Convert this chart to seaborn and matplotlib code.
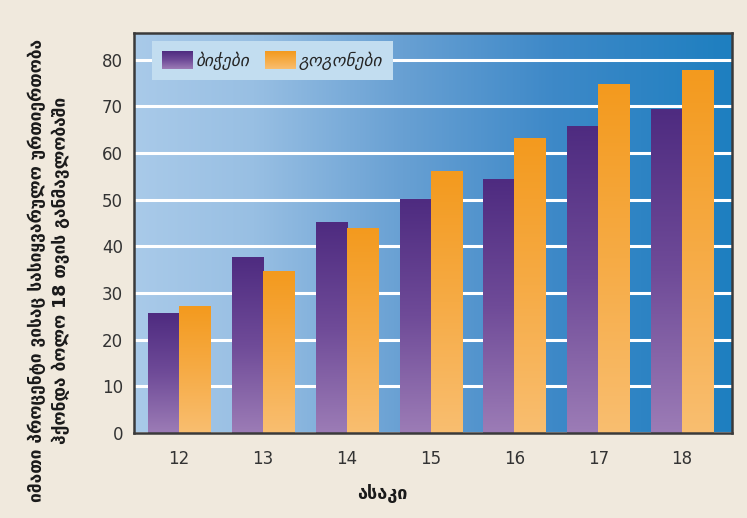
import numpy as np
import pandas as pd
import matplotlib
matplotlib.use("Agg")
import matplotlib.pyplot as plt
import seaborn as sns
from matplotlib.colors import LinearSegmentedColormap
from matplotlib.legend_handler import HandlerBase
from matplotlib.image import BboxImage
from matplotlib.transforms import Bbox, TransformedBbox
from matplotlib.patches import Patch

# ---- data ----
ages = ["12", "13", "14", "15", "16", "17", "18"]
boys = [25.7, 37.7, 45.2, 50.0, 54.4, 65.7, 69.4]
girls = [27.2, 34.6, 43.9, 56.0, 63.2, 74.7, 77.7]
series_names = ["ბიჭები", "გოგონები"]
y_ticks = [0, 10, 20, 30, 40, 50, 60, 70, 80]
y_label = "იმათი პროცენტი ვისაც სასიყვარულო ურთიერთობა\nჰქონდა ბოლო 18 თვის განმავლობაში"
x_label = "ასაკი"

df = pd.DataFrame({
    "age": ages * 2,
    "group": [series_names[0]] * len(ages) + [series_names[1]] * len(ages),
    "value": boys + girls,
})

sns.set_theme(style="white")
plt.rcParams["font.family"] = ["DejaVu Sans"]

BG = "#f0e9dd"
purple_cmap = LinearSegmentedColormap.from_list("purple", ["#9c7cb6", "#6f4b98", "#4e2b80"])
orange_cmap = LinearSegmentedColormap.from_list("orange", ["#f9be70", "#f6ab45", "#f39a1e"])
panel_cmap = LinearSegmentedColormap.from_list(
    "panel", [(0.0, "#a9cae9"), (0.2, "#98bfe3"), (0.45, "#68a0d3"),
              (0.7, "#3e89c8"), (1.0, "#1e7fc0")])

fig = plt.figure(figsize=(7.47, 5.18), dpi=100, facecolor=BG)
ax = fig.add_axes([134 / 747, 1 - 433 / 518, 598 / 747, 400.3 / 518])

sns.barplot(data=df, x="age", y="value", hue="group",
            palette=["#4e2b80", "#f39a1e"], width=0.74, ax=ax,
            legend=False, saturation=1, linewidth=0)

# panel background: horizontal blue gradient
ax.imshow(np.linspace(0, 1, 256).reshape(1, -1), cmap=panel_cmap,
          extent=[0, 1, 0, 1], transform=ax.transAxes, aspect="auto",
          zorder=0.1, interpolation="bilinear")

# vertical gradient fill for each bar
vgrad = np.linspace(0, 1, 256).reshape(-1, 1)
n = len(ages)
for i, bar in enumerate(ax.patches[: 2 * n]):
    x0, w, h = bar.get_x(), bar.get_width(), bar.get_height()
    cmap = purple_cmap if i < n else orange_cmap
    ax.imshow(vgrad, cmap=cmap, extent=[x0, x0 + w, 0, h], origin="lower",
              aspect="auto", zorder=2, interpolation="bilinear")
    bar.set_facecolor("none")

ax.set_xlim(-0.537, 6.596)
ax.set_ylim(0, 85.8)
ax.set_yticks(y_ticks)
ax.set_axisbelow(True)
ax.yaxis.grid(True, color="white", linewidth=2.2)
ax.xaxis.grid(False)
ax.tick_params(axis="both", length=0, labelsize=12, labelcolor="#333333")
ax.tick_params(axis="x", pad=12)
ax.tick_params(axis="y", pad=8)
ax.set_xlabel("")
ax.set_ylabel("")
for s in ax.spines.values():
    s.set_visible(True)
    s.set_color("#3a3a3a")
    s.set_linewidth(1.8)


class GradientHandler(HandlerBase):
    def __init__(self, cmap):
        super().__init__()
        self.cmap = cmap

    def create_artists(self, legend, orig_handle, xdescent, ydescent,
                       width, height, fontsize, trans):
        bb = TransformedBbox(Bbox.from_bounds(-xdescent, -ydescent, width, height), trans)
        img = BboxImage(bb, cmap=self.cmap, interpolation="bilinear", origin="lower")
        img.set_data(vgrad)
        return [img]


h_boys = Patch(facecolor="#4e2b80")
h_girls = Patch(facecolor="#f39a1e")
leg = ax.legend([h_boys, h_girls], series_names, ncol=2,
                loc="upper left", bbox_to_anchor=(0.0296, 0.979), borderaxespad=0,
                frameon=True, fancybox=False, framealpha=1,
                facecolor="#c2ddf0", edgecolor="none",
                prop={"style": "italic", "size": 12.5},
                handlelength=1.73, handleheight=1.15, handletextpad=0.2,
                columnspacing=0.9, borderpad=0.6,
                handler_map={h_boys: GradientHandler(purple_cmap),
                             h_girls: GradientHandler(orange_cmap)})
leg.set_zorder(5)

fig.text(49 / 747, 1 - 270 / 518, y_label, rotation=90, ha="center", va="center",
         multialignment="center", fontsize=12.5, fontweight="bold",
         color="#1a1a1a", linespacing=1.4)
fig.text(382 / 747, 1 - 494 / 518, x_label, ha="center", va="center",
         fontsize=13, fontweight="bold", color="#1a1a1a")

fig.savefig("out.png", dpi=100, facecolor=BG)
